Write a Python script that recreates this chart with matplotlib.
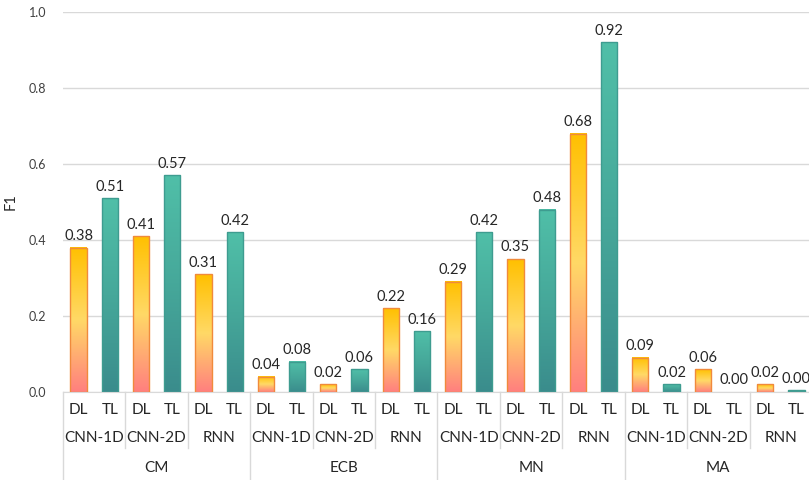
import numpy as np
import matplotlib
matplotlib.use("Agg")
import matplotlib.pyplot as plt
from matplotlib.colors import LinearSegmentedColormap
from matplotlib.transforms import blended_transform_factory

plt.rcParams['font.family'] = ['Lato', 'DejaVu Sans']

datasets = ['CM', 'ECB', 'MN', 'MA']
models = ['CNN-1D', 'CNN-2D', 'RNN']
methods = ['DL', 'TL']
f1 = [0.38, 0.51, 0.41, 0.57, 0.31, 0.42,
      0.04, 0.08, 0.02, 0.06, 0.22, 0.16,
      0.29, 0.42, 0.35, 0.48, 0.68, 0.92,
      0.09, 0.02, 0.06, 0.00, 0.02, 0.004]

dl_cmap = LinearSegmentedColormap.from_list('dl', ['#FF7F7F', '#FFD966', '#FFC000'])
tl_cmap = LinearSegmentedColormap.from_list('tl', ['#3A8C8C', '#46A89A', '#50BFA8'])
dl_edge = '#F08A3C'
tl_edge = '#3E9C90'

fig = plt.figure(figsize=(8.09, 4.8), dpi=100)
ax = fig.add_axes([63/809, 88/480, 749/809, 380/480])

n = len(f1)
x = np.arange(n)
w = 0.52
grad = np.linspace(0, 1, 256).reshape(-1, 1)
for i, v in enumerate(f1):
    dl = (i % 2 == 0)
    cmap = dl_cmap if dl else tl_cmap
    if v > 0:
        ax.imshow(grad, extent=[x[i]-w/2, x[i]+w/2, 0, v], origin='lower',
                  aspect='auto', cmap=cmap, zorder=2)
        ax.bar(x[i], v, width=w, facecolor='none',
               edgecolor=dl_edge if dl else tl_edge, linewidth=1.0, zorder=3)
    ax.text(x[i], v + 0.012, f"{v:.2f}", ha='center', va='bottom',
            fontsize=10.5, color='#262626', zorder=4)

ax.set_xlim(-0.5, n - 0.5)
ax.set_ylim(0, 1.0)
ax.set_yticks(np.arange(0, 1.01, 0.2))
ax.set_yticklabels([f"{t:.1f}" for t in np.arange(0, 1.01, 0.2)])
ax.tick_params(axis='y', length=0, labelsize=9, labelcolor='#404040', pad=12)
ax.set_xticks([])
ax.grid(axis='y', color='#D9D9D9', linewidth=1)
ax.set_axisbelow(True)
for s in ['top', 'right', 'left']:
    ax.spines[s].set_visible(False)
ax.spines['bottom'].set_color('#D9D9D9')
ax.set_ylabel('F1', fontsize=10.5, color='#262626', labelpad=8)

tr = blended_transform_factory(ax.transData, ax.transAxes)
for i in range(n):
    ax.text(x[i], -0.047, methods[i % 2], ha='center', va='center',
            fontsize=11, color='#262626', transform=tr, clip_on=False)
for j in range(n // 2):
    ax.text(2*j + 0.5, -0.121, models[j % 3], ha='center', va='center',
            fontsize=11, color='#262626', transform=tr, clip_on=False)
for k in range(len(datasets)):
    ax.text(6*k + 2.5, -0.2, datasets[k], ha='center', va='center',
            fontsize=11, color='#262626', transform=tr, clip_on=False)

for j in range(n // 2 + 1):
    xb = 2*j - 0.5
    bottom = -0.232 if j % 3 == 0 else -0.147
    ax.plot([xb, xb], [0, bottom], color='#D9D9D9', linewidth=1,
            transform=tr, clip_on=False)

fig.savefig('out.png', dpi=100)
